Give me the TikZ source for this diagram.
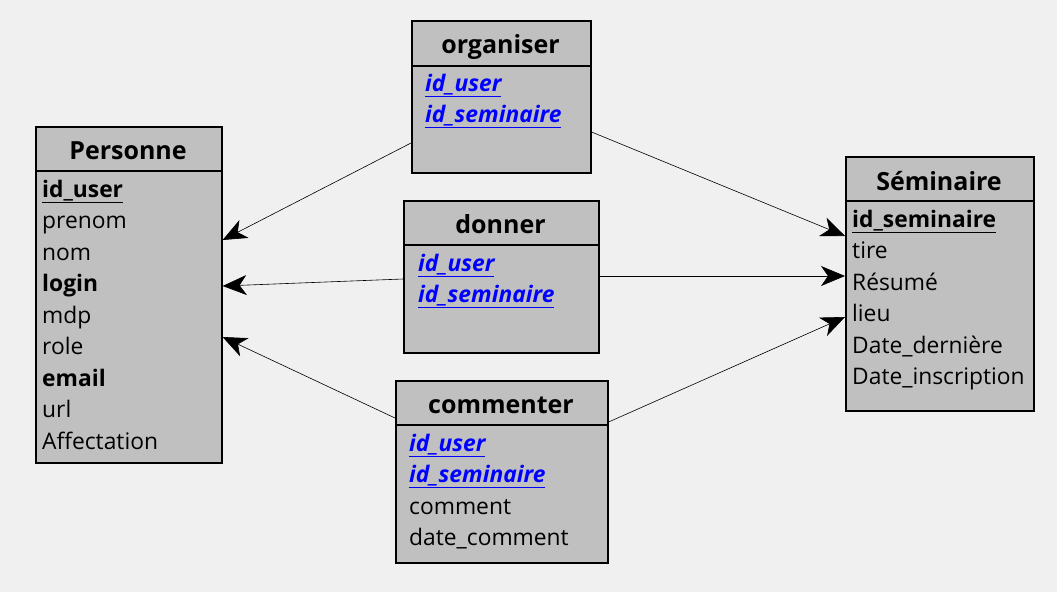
\documentclass[tikz,border=0pt]{standalone}
\usepackage{fontspec}
\setmainfont{Open Sans}
\usetikzlibrary{arrows.meta,positioning}
\definecolor{bg}{RGB}{240,240,240}
\definecolor{tgray}{RGB}{192,192,192}
\definecolor{fkblue}{RGB}{0,0,255}
\newcommand{\pk}[1]{\textbf{\underline{#1}}}
\newcommand{\fk}[1]{\textcolor{fkblue}{\textbf{\textit{\underline{#1}}}}}

\begin{document}
\begin{tikzpicture}[x=1pt,y=-1pt,
  ent/.style={draw=black, line width=1.6pt, fill=tgray, anchor=north west, inner sep=0pt},
  sep/.style={line width=1.6pt},
  head/.style={anchor=base, inner sep=0pt, font=\fontsize{25}{29}\selectfont\bfseries},
  attr/.style={anchor=base west, inner sep=0pt, font=\fontsize{22.8}{27}\selectfont},
  link/.style={-{Stealth[length=24pt,width=20pt,inset=7pt]}, line width=0.6pt}]
	\fill[bg] (0,0) rectangle (1057,592);
	\useasboundingbox (0,0) rectangle (1057,592);

	% Personne
	\node[ent, minimum width=186pt, minimum height=336pt] (pers) at (35,126) {};
	\draw[sep] ([yshift=-45pt]pers.north west) -- ([yshift=-45pt]pers.north east);
	\node[head] (persT) at (128,159) {Personne};
	\foreach \t [count=\i from 0] in {\pk{id\_user}, prenom, nom, \textbf{login}, mdp, role, \textbf{email}, url, Affectation}
		\node[attr] at (42,{197+31.5*\i}) {\t};

	% organiser
	\node[ent, minimum width=179pt, minimum height=152pt] (org) at (411,20) {};
	\draw[sep] ([yshift=-46pt]org.north west) -- ([yshift=-46pt]org.north east);
	\node[head] (orgT) at (500.5,53) {organiser};
	\foreach \t [count=\i from 0] in {\fk{id\_user}, \fk{id\_seminaire}}
		\node[attr] at (425,{91+31.5*\i}) {\t};

	% donner
	\node[ent, minimum width=195pt, minimum height=152pt] (don) at (403,200) {};
	\draw[sep] ([yshift=-45pt]don.north west) -- ([yshift=-45pt]don.north east);
	\node[head] (donT) at (500.5,233) {donner};
	\foreach \t [count=\i from 0] in {\fk{id\_user}, \fk{id\_seminaire}}
		\node[attr] at (418,{271+31.5*\i}) {\t};

	% commenter
	\node[ent, minimum width=212pt, minimum height=182pt] (com) at (395,380) {};
	\draw[sep] ([yshift=-45pt]com.north west) -- ([yshift=-45pt]com.north east);
	\node[head] (comT) at (501,413) {commenter};
	\foreach \t [count=\i from 0] in {\fk{id\_user}, \fk{id\_seminaire}, comment, date\_comment}
		\node[attr] at (409,{451+31.5*\i}) {\t};

	% Seminaire
	\node[ent, minimum width=188pt, minimum height=254pt] (sem) at (845,156) {};
	\draw[sep] ([yshift=-45pt]sem.north west) -- ([yshift=-45pt]sem.north east);
	\node[head] (semT) at (939,190) {Séminaire};
	\foreach \t [count=\i from 0] in {\pk{id\_seminaire}, tire, Résumé, lieu, Date\_dernière, Date\_inscription}
		\node[attr] at (852,{227+31.5*\i}) {\t};

	% liens
	\draw[link] ([yshift=-123pt]org.north west) -- ([yshift=-114pt]pers.north east);
	\draw[link] ([yshift=-79pt]don.north west) -- ([yshift=-160pt]pers.north east);
	\draw[link] ([yshift=-38pt]com.north west) -- ([yshift=-211pt]pers.north east);
	\draw[link] ([yshift=-112pt]org.north east) -- ([yshift=-80pt]sem.north west);
	\draw[link] ([yshift=-76pt]don.north east) -- ([yshift=-120pt]sem.north west);
	\draw[link] ([yshift=-42pt]com.north east) -- ([yshift=-161pt]sem.north west);

\end{tikzpicture}
\end{document}
